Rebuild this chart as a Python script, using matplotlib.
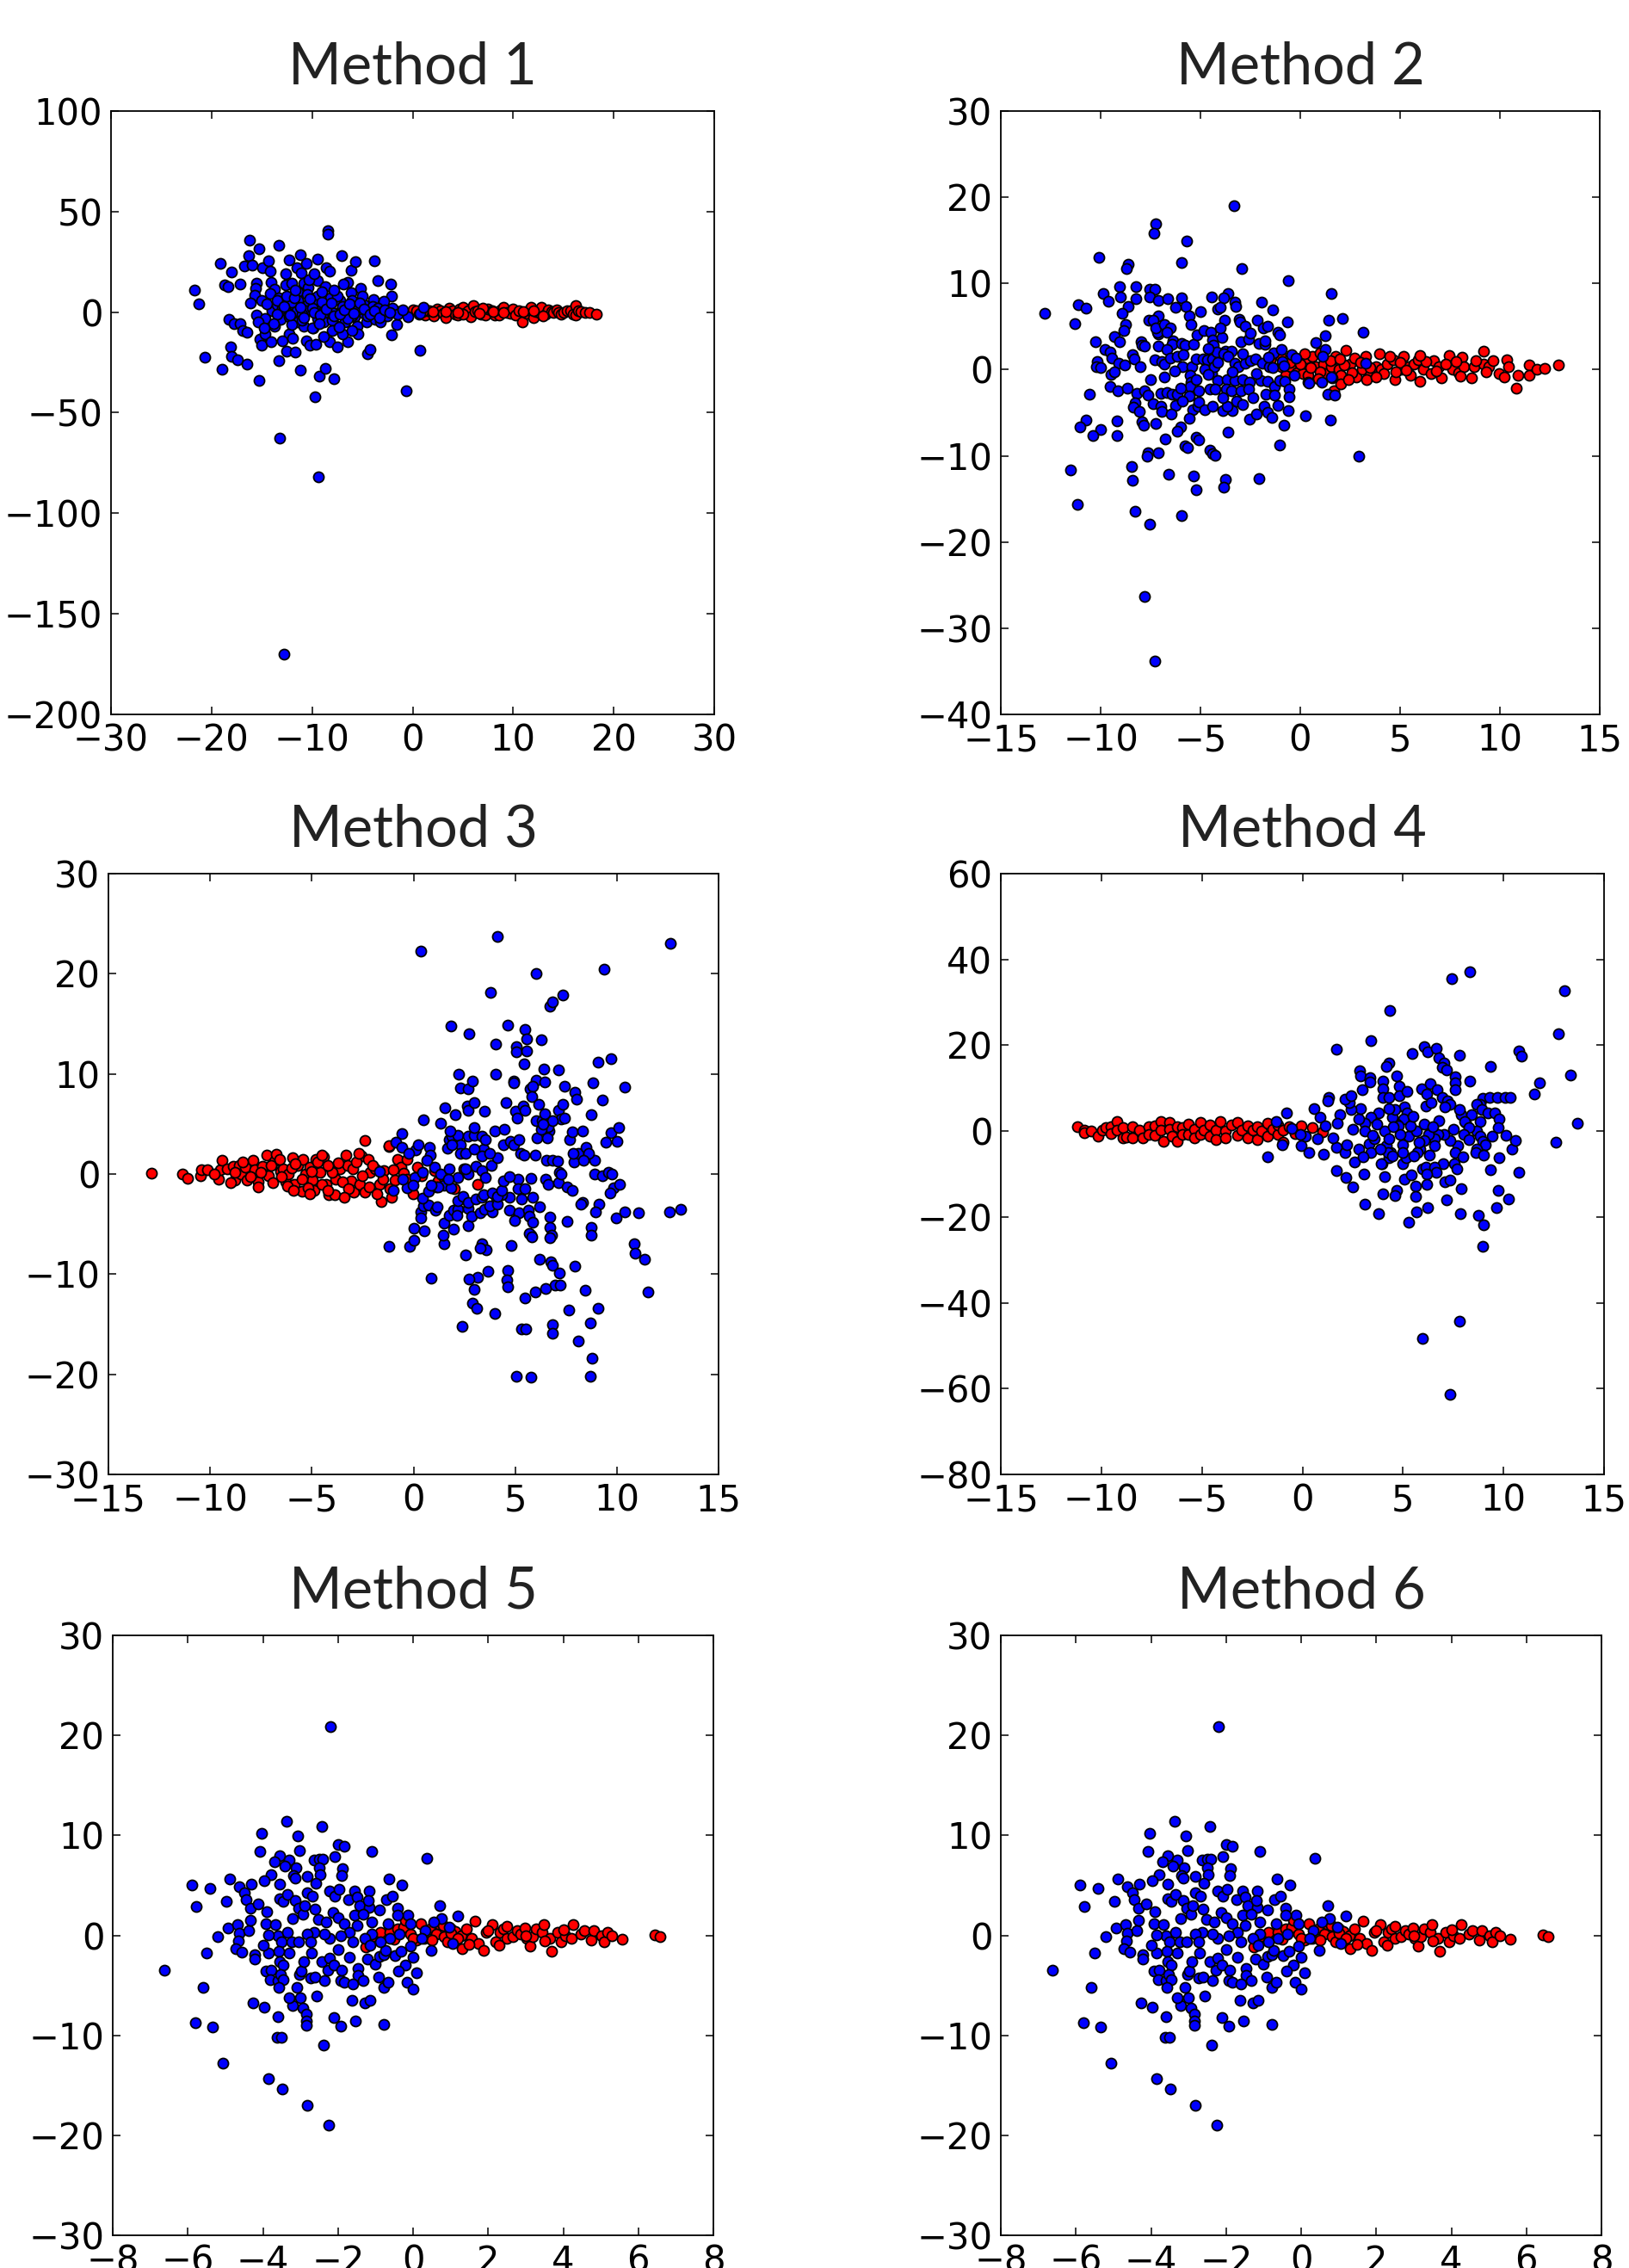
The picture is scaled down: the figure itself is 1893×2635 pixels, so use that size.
import numpy as np
import matplotlib
matplotlib.use("Agg")
import matplotlib.pyplot as plt

# points, (x, y)
m1_blue = [(-8.4, 40.4), (-8.4, 39.0), (-16.2, 35.7), (-15.3, 31.4), (-13.3, 33.1), (-19.1, 24.3), (-18.0, 20.1),
           (-16.3, 28.0), (-16.7, 22.9), (-16.0, 23.6), (-14.9, 22.1), (-14.3, 25.4), (-14.2, 20.4), (-12.3, 26.0),
           (-11.2, 28.6), (-9.5, 26.4), (-11.5, 22.1), (-10.6, 24.3), (-11.1, 19.7), (-8.6, 22.1), (-8.3, 20.4),
           (-7.1, 28.0), (-6.1, 20.7), (-5.7, 25.0), (-3.8, 25.7), (-3.5, 15.7), (-2.2, 14.0), (-2.1, 7.9),
           (-6.5, 15.0), (-6.9, 14.0), (-5.2, 11.9), (-18.7, 13.6), (-18.4, 12.6), (-17.2, 13.9), (-21.7, 11.0),
           (-21.3, 4.3), (-15.5, 14.3), (-15.6, 11.9), (-14.1, 15.0), (-13.7, 11.4), (-12.6, 13.6), (-12.6, 19.0),
           (-12.0, 14.6), (-10.8, 14.6), (-10.4, 12.1), (-9.5, 15.7), (-8.7, 12.9), (-15.7, 8.3), (-15.0, 5.7),
           (-16.1, 4.7), (-14.2, 9.3), (-13.3, 7.1), (-12.2, 3.6), (-11.4, 10.0), (-11.4, 5.7), (-10.4, 4.3),
           (-9.5, 7.9), (-8.5, 3.6), (-8.2, 7.1), (-7.2, 5.7), (-6.1, 9.6), (-4.8, 3.6), (-3.9, 6.4), (-2.9, 5.3),
           (-14.0, 0.7), (-13.5, 3.6), (-12.6, 0.7), (-11.5, 0.7), (-10.6, 0.7), (-9.6, 3.6), (-8.9, -0.4),
           (-7.6, -0.4), (-7.0, 2.1), (-5.8, -2.1), (-4.8, -0.7), (-3.2, 0.7), (-1.9, 1.0), (-1.5, 0.4),
           (-0.5, -2.1), (0.7, -0.7), (1.1, 2.4), (-15.5, -1.4), (-14.7, -3.3), (-18.3, -3.6), (-17.8, -5.7),
           (-17.2, -5.7), (-16.9, -9.3), (-16.5, -10.0), (-15.4, -5.0), (-13.7, -7.1), (-13.1, -3.6), (-12.3, -2.1),
           (-12.3, -10.7), (-11.4, -5.0), (-10.8, -7.1), (-9.9, -7.9), (-8.9, -5.0), (-7.7, -6.4), (-6.7, -5.0),
           (-5.5, -7.1), (-4.6, -5.0), (-3.7, -3.6), (-3.2, -5.0), (-1.6, -6.0), (-2.1, -11.4), (-15.2, -13.6),
           (-14.7, -10.7), (-15.0, -16.4), (-14.1, -14.6), (-13.0, -14.3), (-12.5, -19.3), (-11.7, -20.0),
           (-10.6, -14.3), (-10.2, -16.4), (-9.6, -16.1), (-8.3, -14.7), (-7.5, -17.1), (-6.5, -14.7),
           (-5.4, -10.7), (-4.5, -20.7), (-4.2, -18.6), (-18.1, -17.1), (-18.0, -21.9), (-17.4, -23.6),
           (-16.5, -26.0), (-20.7, -22.6), (-19.0, -28.3), (-15.3, -33.9), (-13.3, -24.0), (-11.2, -29.0),
           (-9.3, -31.7), (-8.7, -28.1), (-7.8, -33.1), (-9.7, -42.0), (0.7, -18.9), (-0.6, -38.9), (-13.2, -62.7),
           (-9.4, -82.0), (-12.8, -170.0), (-13, 2), (-12, 5), (-11, -1), (-10, 2), (-9, 5), (-8, 0), (-7, 3),
           (-6, -2), (-5, 2), (-4, 3), (-3, -1), (-2, 2), (-12.5, 8), (-10.5, 9), (-9, 10), (-7.5, 8), (-6, 6),
           (-5, 8), (-11, -4), (-9.5, -3), (-8, -4), (-6.5, -3), (-4.5, -2), (-13.5, -1), (-14.5, 4), (-10, -8),
           (-8, -9), (-7, -11), (-12, -6), (-5.5, 1), (-3.5, 2), (-2.5, -2), (-1.5, -1), (-1, 1),
           (-13.5, 6), (-12.8, 3), (-11.8, 7), (-11.2, 2.5), (-10.2, 6.5), (-9.8, 0), (-9.2, -1.5), (-8.6, 1.5),
           (-8.1, 4.5), (-7.8, -2), (-7.2, -1), (-6.8, 1), (-6.3, 4), (-5.9, -0.5), (-5.3, 4.5), (-4.8, 1.5),
           (-4.2, -1), (-3.8, 0.5), (-3.3, -2.5), (-2.8, 1), (-2.3, 0), (-12.2, -1.5), (-10.8, -2.5), (-9.3, -5.5),
           (-7.3, -7.5), (-6, -9), (-11.7, 11), (-10.3, 16), (-7.8, 11), (-9.8, 19), (-13.8, -5.5), (-14.8, -8),
           (-11.9, -13), (-8.9, -12)]
m1_red = [(-1.0, 0.5), (-0.5, -0.8), (0.0, 1.0), (0.35, 0.7), (0.6, -1.2), (1.2, -1.4), (1.5, 0.9), (1.7, 0.7),
          (2.1, -1.9), (2.4, 1.5), (2.75, 0.7), (3.0, -0.5), (3.26, -2.9), (3.6, 1.8), (3.94, 0.7), (4.2, -1.2),
          (4.46, -1.4), (4.7, 1.5), (4.97, 2.4), (5.2, -0.4), (5.5, 0.8), (5.8, -2.4), (6.0, 3.3), (6.2, 0.2),
          (6.5, 0.7), (6.8, -1.0), (7.2, -1.4), (7.5, 1.6), (7.9, 0.7), (8.2, -1.5), (8.56, -1.4), (8.8, 1.2),
          (9.07, 2.4), (9.4, -0.3), (9.75, -0.4), (10.0, 1.4), (10.27, -1.4), (10.6, 0.5), (10.95, -5.0),
          (11.3, -0.4), (11.6, 1.2), (11.8, 2.4), (12.0, -2.9), (12.3, 0.3), (12.7, -0.4), (12.8, 2.4),
          (13.2, -1.2), (13.5, 1.1), (13.8, 0.2), (14.0, -0.3), (14.3, 1.0), (14.5, -0.3), (14.8, -1.2),
          (15.05, -0.3), (15.4, 0.8), (15.7, 0.7), (16.0, -1.0), (16.2, 3.3), (16.25, -1.4), (16.5, 0.5),
          (16.76, 0.3), (17.2, 0.0), (17.6, -0.3), (18.3, -1.0), (2.0, 0.3), (5.0, -0.8), (8.0, 0.3), (11.0, 0.2),
          (13.0, -2.0), (7.0, 1.9), (1.0, 0.2), (3.3, 0.4), (4.5, 0.0), (6.6, -0.5), (9.0, 0.0), (12.0, 0.8)]

m2_blue = [(-3.32, 19.0), (-7.25, 16.9), (-7.32, 15.8), (-5.7, 14.9), (-10.08, 13.0), (-8.6, 12.2), (-8.7, 11.7),
           (-5.95, 12.4), (-2.93, 11.7), (-0.6, 10.3), (-9.06, 9.6), (-8.23, 9.6), (-7.53, 9.3), (-7.3, 9.3),
           (-9.87, 8.8), (-9.6, 7.9), (-9.02, 8.4), (-8.25, 8.2), (-7.53, 8.4), (-7.13, 8.0), (-6.65, 8.2),
           (-5.94, 8.3), (-5.74, 7.3), (-6.24, 7.2), (-4.43, 8.4), (-3.6, 8.8), (-3.85, 8.3), (-3.28, 7.8),
           (-3.22, 7.3), (-4.12, 7.0), (-3.99, 7.2), (-1.93, 7.8), (-1.39, 6.9), (1.54, 8.8), (-11.1, 7.5),
           (-10.75, 7.1), (-12.8, 6.5), (-11.29, 5.3), (-8.6, 7.3), (-8.94, 6.5), (-8.73, 5.2), (-8.85, 4.5),
           (-7.11, 6.2), (-7.6, 5.7), (-7.36, 5.7), (-5.55, 6.2), (-5.47, 5.2), (-4.99, 6.7), (-3.8, 5.7),
           (-3.08, 5.8), (-3.03, 5.5), (-2.74, 5.0), (-2.14, 5.7), (-1.85, 4.8), (-1.62, 5.0), (-1.14, 4.3),
           (-1.04, 4.0), (-0.64, 5.5), (1.42, 5.7), (2.1, 5.9), (1.27, 3.9), (3.16, 4.3), (0.79, 3.1), (1.27, 2.3),
           (-10.27, 3.2), (-9.33, 3.8), (-9.04, 3.2), (-9.77, 2.3), (-9.54, 2.0), (-9.44, 1.3), (-10.16, 0.9),
           (-10.2, 0.3), (-10.0, 0.2), (-8.42, 1.7), (-8.32, 1.2), (-9.11, 0.7), (-8.8, 0.5), (-9.48, -0.6),
           (-9.29, -0.3), (-7.98, 3.2), (-7.94, 2.8), (-7.79, 2.7), (-7.11, 4.1), (-7.17, 4.3), (-7.25, 4.8),
           (-6.82, 5.2), (-6.5, 4.8), (-6.69, 4.3), (-6.38, 3.3), (-6.44, 2.9), (-5.95, 3.0), (-5.76, 2.8),
           (-5.34, 2.9), (-5.18, 4.0), (-4.84, 4.5), (-4.49, 4.3), (-4.38, 3.4), (-4.36, 2.8), (-3.93, 3.7),
           (-3.74, 2.1), (-3.45, 2.1), (-2.99, 3.2), (-2.6, 3.5), (-2.06, 3.0), (-1.75, 2.9), (-1.75, 3.3),
           (-1.33, 1.9), (-0.95, 2.3), (-7.11, 2.7), (-6.69, 2.3), (-7.27, 1.1), (-6.92, 0.9), (-6.82, 0.6),
           (-6.53, 1.3), (-6.15, 1.5), (-5.86, 1.7), (-5.9, 0.3), (-5.42, 0.3), (-5.22, 1.2), (-4.88, 1.2),
           (-4.65, 1.1), (-4.41, 1.2), (-4.8, 0.0), (-4.45, -0.5), (-4.32, 0.3), (-4.18, 2.0), (-3.83, 1.8),
           (-4.12, 0.8), (-3.6, 1.5), (-3.26, 0.7), (-3.1, 0.3), (-2.78, 0.7), (-2.49, 1.0), (-2.26, 1.2),
           (-1.91, 0.7), (-1.56, 0.3), (-1.37, 0.2), (-0.91, 0.9), (-0.44, 1.7), (-0.21, 1.3), (-6.82, -0.9),
           (-5.53, -0.7), (-5.47, -1.5), (-5.53, -2.0), (-4.61, -0.6), (-4.12, -1.3), (-3.68, -1.2), (-3.26, -1.3),
           (-2.87, -1.2), (-2.53, -1.5), (-1.97, -1.3), (-1.62, -1.4), (-1.29, -2.0), (-1.04, -1.3), (-0.79, -1.4),
           (-0.56, -2.3), (0.4, -1.5), (1.08, -1.5), (1.6, -1.0), (-9.52, -2.0), (-9.13, -2.5), (-8.67, -2.2),
           (-10.58, -2.9), (-8.21, -2.8), (-7.79, -2.5), (-7.65, -3.0), (-6.99, -2.8), (-6.69, -2.7), (-6.44, -2.9),
           (-6.15, -2.9), (-5.57, -3.1), (-5.09, -2.5), (-4.51, -2.3), (-4.26, -2.3), (-3.7, -2.3), (-3.45, -2.5),
           (-2.97, -2.5), (-2.58, -2.3), (-2.35, -3.3), (-1.72, -2.9), (-1.29, -3.0), (-0.58, -3.2), (1.37, -2.9),
           (1.71, -3.0), (-8.29, -3.9), (-8.36, -4.4), (-8.07, -4.9), (-7.38, -4.0), (-6.98, -4.3), (-6.96, -4.9),
           (-6.24, -4.2), (-5.92, -3.7), (-6.47, -5.1), (-5.38, -4.7), (-5.15, -4.3), (-5.09, -3.8), (-4.78, -4.7),
           (-4.41, -4.3), (-3.9, -4.8), (-3.41, -4.8), (-3.68, -4.3), (-3.2, -3.7), (-2.87, -4.1), (-1.81, -4.3),
           (-1.62, -5.0), (-1.43, -5.5), (-1.1, -4.2), (-0.6, -4.8), (-0.81, -6.4), (0.25, -5.3), (1.52, -5.8),
           (-2.56, -5.7), (-2.2, -5.1), (-5.55, -5.6), (-7.94, -6.0), (-7.84, -6.4), (-7.23, -6.2), (-10.75, -5.8),
           (-11.02, -6.6), (-9.98, -6.9), (-10.4, -7.6), (-9.19, -5.9), (-9.17, -7.6), (-6.78, -8.0), (-6.01, -6.6),
           (-6.17, -7.1), (-5.22, -7.8), (-5.09, -8.1), (-3.62, -7.2), (-5.76, -8.8), (-5.65, -9.0), (-4.51, -9.3),
           (-4.41, -9.7), (-4.26, -9.9), (-7.65, -9.6), (-7.69, -10.0), (-7.11, -9.6), (-1.02, -8.7), (2.93, -10.0),
           (-8.46, -11.2), (-8.42, -12.8), (-11.52, -11.6), (-6.61, -12.1), (-5.36, -12.3), (-3.76, -12.7),
           (-3.84, -13.6), (-5.22, -13.9), (-2.08, -12.6), (-11.16, -15.6), (-8.27, -16.4), (-5.94, -16.9),
           (-7.53, -17.9), (-7.8, -26.3), (-7.3, -33.8), (3.26, 0.7), (1.56, -0.9), (0.44, -1.6), (1.13, 1.5),
           (-5.2, -1.2), (-4.6, 2.4), (-3.4, -0.3), (-2.9, 1.8), (-2.2, -0.5), (-1.6, 1.4), (-0.8, 0.4),
           (-0.3, -0.7), (-6.3, -0.2), (-7.5, -1.2), (-8.0, 0.3), (-3.9, -3.3), (-2.5, 4.2), (-6.0, -2.2),
           (-4.0, 4.8)]
m2_red = [(-1.52, 1.17), (-0.95, 0.33), (-0.75, -0.67), (-0.46, 0.33), (-0.18, -0.33), (0.11, -0.5), (0.31, 1.33),
          (0.6, 1.5), (0.79, 0.33), (1.17, 0.67), (1.27, -0.5), (1.56, 0.33), (1.75, 1.5), (1.94, 0.0),
          (2.04, -0.67), (2.29, 2.27), (2.52, 0.67), (2.72, 1.33), (2.81, -0.83), (3.1, 0.0), (3.29, 1.5),
          (3.49, -0.67), (3.78, 0.33), (3.97, 1.83), (4.06, 0.0), (4.35, 0.67), (4.64, 1.17), (4.74, -1.17),
          (5.03, 0.0), (5.18, 1.5), (5.41, 0.33), (5.7, 0.67), (5.89, 1.17), (5.99, -1.33), (6.18, 0.0),
          (6.57, -0.5), (6.67, 1.07), (6.95, 0.33), (7.05, -1.0), (7.44, 1.67), (7.63, 0.0), (7.92, -0.33),
          (8.11, 1.43), (8.21, 0.33), (8.59, -1.0), (8.69, 0.33), (9.17, 2.17), (9.17, 0.67), (9.46, 0.33),
          (9.65, 1.07), (9.94, -0.5), (10.23, -0.83), (10.33, 1.17), (10.42, 0.33), (10.81, -2.17), (10.9, -0.67),
          (11.48, 0.5), (11.48, -0.67), (11.87, 0.0), (12.25, 0.17), (12.93, 0.57), (1.66, -2.5), (2.04, -1.67),
          (0.4, -0.67), (0.02, 0.67), (0.5, 0.2), (1.0, -0.3), (1.5, 1.0), (2.2, 0.5), (2.6, -0.4), (3.0, 0.8),
          (3.5, 0.2), (4.2, -0.5), (4.5, 1.5), (5.0, 0.8), (5.5, -0.7), (6.3, 0.9), (6.8, -0.2), (7.3, 0.6),
          (8.0, -0.8), (8.8, 1.0), (9.3, -0.3), (-1.0, 1.5), (-0.5, 0.8), (0.2, 1.8), (1.0, 1.9), (2.0, 1.2),
          (3.3, -1.2), (4.8, -0.3), (6.0, 1.6), (0.9, -1.1), (2.4, -1.2), (3.8, -0.9), (5.3, -0.1), (7.8, 0.9)]

m3_blue = [(0.37, 22.25), (4.13, 23.7), (12.62, 23.0), (6.02, 20.0), (9.36, 20.5), (3.77, 18.1), (6.7, 16.8),
           (6.85, 17.2), (7.36, 17.9), (1.84, 14.8), (2.72, 14.0), (4.64, 14.9), (5.47, 14.4), (5.57, 13.5),
           (6.27, 13.4), (4.04, 13.0), (5.05, 12.75), (5.05, 12.2), (5.55, 12.3), (5.43, 11.0), (6.41, 10.5),
           (7.14, 10.4), (9.07, 11.2), (9.69, 11.5), (2.21, 10.0), (4.02, 10.0), (2.29, 8.6), (2.68, 8.5),
           (2.91, 9.3), (4.93, 9.3), (4.91, 9.1), (6.04, 9.4), (6.46, 9.2), (5.75, 8.5), (5.88, 8.75), (5.82, 7.7),
           (7.44, 8.75), (7.94, 8.2), (8.02, 7.5), (8.81, 9.1), (9.3, 7.4), (10.37, 8.7), (1.53, 6.6), (2.64, 6.8),
           (2.68, 6.4), (2.97, 7.1), (3.47, 6.3), (2.04, 5.9), (0.5, 5.4), (1.32, 5.1), (4.56, 7.1), (5.01, 6.25),
           (5.09, 5.6), (5.38, 6.8), (5.47, 6.4), (6.14, 7.0), (6.04, 5.3), (6.31, 5.3), (6.5, 4.6), (6.66, 4.3),
           (6.08, 3.6), (6.56, 3.6), (6.62, 4.75), (7.14, 6.4), (7.24, 5.5), (7.34, 7.0), (7.67, 3.4), (7.79, 4.2),
           (8.33, 4.3), (8.74, 5.9), (9.71, 4.1), (10.08, 4.6), (9.47, 3.2), (10.0, 3.3), (-0.58, 4.0),
           (-0.86, 3.2), (-0.58, 2.7), (0.1, 2.4), (-0.23, 2.1), (0.25, 2.9), (0.79, 2.7), (0.81, 1.9), (1.67, 2.6),
           (1.77, 3.4), (1.9, 3.75), (2.19, 3.9), (2.29, 2.9), (2.68, 3.75), (2.97, 3.9), (3.36, 3.75), (3.45, 2.5),
           (3.55, 3.4), (2.97, 4.6), (3.98, 4.3), (4.48, 4.5), (4.41, 2.9), (4.76, 3.3), (4.91, 2.9), (5.2, 3.4),
           (5.26, 2.1), (5.45, 1.9), (5.98, 1.9), (6.54, 1.4), (6.85, 1.4), (7.09, 1.25), (7.18, 0.14), (7.88, 1.2),
           (8.12, 2.1), (8.6, 1.8), (8.89, 1.4), (8.89, 0.0), (9.28, -0.2), (9.57, 0.2), (9.82, -1.4), (10.15, -1.0),
           (9.65, -1.9), (6.5, -0.5), (6.62, -1.0), (7.14, -0.9), (7.57, -1.25), (7.79, -1.6), (8.33, -2.8),
           (8.25, -3.0), (9.13, -3.0), (8.95, -3.8), (5.16, -0.5), (5.78, -0.46), (5.14, -1.5), (5.49, -1.5),
           (5.88, -2.3), (4.72, -2.3), (5.3, -2.5), (4.33, -2.1), (4.08, -2.4), (4.72, -3.6), (5.2, -3.9),
           (5.65, -3.6), (5.69, -4.2), (6.18, -3.3), (4.99, -4.6), (5.88, -4.8), (6.7, -4.3), (6.7, -5.3),
           (6.79, -6.1), (6.7, -6.4), (7.57, -4.75), (8.72, -5.3), (8.72, -6.1), (9.96, -4.4), (10.39, -3.75),
           (11.05, -3.9), (12.6, -3.75), (13.13, -3.5), (10.87, -7.0), (10.89, -7.9), (11.36, -8.5), (11.53, -11.8),
           (7.94, -9.2), (8.43, -11.6), (7.63, -13.6), (9.07, -13.4), (8.7, -14.9), (8.1, -16.7), (8.8, -18.4),
           (8.7, -20.2), (6.19, -8.5), (6.77, -8.75), (6.85, -9.1), (7.18, -9.9), (6.95, -11.1), (7.2, -11.1),
           (6.5, -11.4), (5.98, -11.8), (5.49, -12.4), (4.62, -9.6), (4.6, -10.6), (4.64, -11.3), (3.67, -9.75),
           (3.16, -10.3), (2.72, -10.5), (2.97, -11.5), (3.98, -13.9), (2.91, -12.9), (3.1, -13.4), (2.41, -15.25),
           (5.3, -15.5), (5.51, -15.5), (6.85, -15.0), (6.85, -15.9), (5.05, -20.2), (5.77, -20.25), (0.85, -10.4),
           (2.58, -8.1), (3.36, -7.0), (3.59, -7.6), (3.26, -7.4), (4.81, -7.1), (5.77, -6.1), (5.69, -5.9),
           (5.82, -6.3), (-1.21, -7.2), (-0.2, -7.2), (0.04, -6.6), (0.02, -5.4), (0.54, -5.7), (1.51, -7.0),
           (1.47, -6.1), (1.98, -5.5), (2.7, -5.2), (0.35, -3.75), (0.37, -4.4), (0.5, -3.2), (0.76, -3.1),
           (1.09, -3.6), (1.16, -3.3), (1.51, -4.9), (1.77, -4.1), (1.96, -3.6), (2.19, -3.5), (2.15, -4.1),
           (2.7, -3.4), (2.87, -4.2), (3.28, -3.9), (3.51, -3.5), (3.86, -3.8), (3.75, -3.2), (4.13, -3.0),
           (0.45, -2.4), (0.76, -1.7), (1.12, -1.3), (1.51, -1.1), (1.84, -1.4), (2.19, -2.7), (2.43, -2.25),
           (2.68, -2.8), (3.07, -2.5), (3.36, -2.3), (3.45, -2.1), (3.86, -1.9), (4.13, -2.2), (4.33, -1.6),
           (4.43, -0.7), (4.72, -0.3), (2.68, 0.0), (3.07, 0.8), (3.36, 0.36), (3.84, 0.9), (4.13, 1.6),
           (3.55, -0.36), (2.58, 0.5), (2.19, -0.36), (1.03, 0.7), (1.32, 0.0), (1.77, 0.5), (1.71, -0.5),
           (1.22, -1.25), (0.87, -1.1), (0.06, -0.36), (-0.33, -1.4), (-0.52, -0.5), (-1.01, -1.6), (-1.69, 0.3),
           (-0.04, -1.1), (0.45, 0.2), (0.64, 1.4), (1.8, 4.3), (1.9, 2.9), (2.29, 2.1), (2.58, 2.1), (2.97, 2.5),
           (3.36, 1.8), (3.75, 2.1), (6.46, 6.0), (6.85, 5.3), (7.44, 5.6), (6.27, 4.5), (6.37, 5.0), (7.83, 2.1),
           (8.5, 2.7), (8.6, 2.1), (8.37, 1.4), (9.77, 0.0), (7.24, 0.0)]
m3_red = [(-12.9, 0.1), (-11.34, 0.0), (-11.11, -0.46), (-10.49, -0.2), (-10.43, 0.4), (-10.14, 0.46), (-9.6, -0.5),
          (-9.52, 0.46), (-9.4, 1.4), (-9.17, 0.5), (-8.87, 0.8), (-8.78, -0.64), (-8.58, 0.9), (-8.49, 0.0),
          (-8.29, 0.7), (-8.2, -0.64), (-7.9, 1.4), (-7.81, 0.43), (-7.65, -0.8), (-7.65, -1.3), (-7.42, 0.8),
          (-7.22, 1.9), (-7.13, -0.18), (-6.84, 1.25), (-6.74, 1.96), (-6.55, 0.29), (-6.41, 0.54), (-6.29, -0.8),
          (-6.16, 0.0), (-5.96, 1.6), (-5.87, -1.0), (-5.67, 0.9), (-5.48, -1.7), (-5.42, 1.5), (-5.32, 0.0),
          (-5.09, 0.71), (-4.99, -0.64), (-4.9, -1.6), (-4.8, 1.43), (-4.6, 0.18), (-4.41, 1.71), (-4.31, -1.07),
          (-4.18, -2.07), (-4.06, 0.54), (-3.87, -2.07), (-3.83, -0.54), (-3.63, 0.54), (-3.34, 1.86), (-3.24, 0.89),
          (-3.05, -0.71), (-2.95, -1.79), (-2.66, -1.07), (-2.56, 1.79), (-2.37, -1.79), (-2.23, 1.43), (-2.12, 0.18),
          (-1.89, 0.54), (-1.69, -1.07), (-1.59, -2.79), (-1.46, 0.36), (-1.21, 2.75), (-1.15, -1.43), (-1.07, -2.32),
          (-0.78, 1.5), (-0.62, 0.71), (-0.33, 1.43), (-0.14, -1.07), (-0.04, -1.96), (0.21, 0.71), (0.41, -0.18),
          (1.03, 0.36), (1.22, -0.71), (1.51, -0.36), (2.0, -1.43), (2.48, 0.54), (3.16, -1.07), (-2.37, 3.39),
          (-1.21, 2.86), (-6.5, -0.3), (-6.0, 0.6), (-5.5, -0.5), (-5.0, 0.3), (-4.5, -1.0), (-4.0, 0.2), (-3.5, -0.8),
          (-3.0, 0.5), (-2.5, -0.2), (-2.0, 0.9), (-1.5, -0.5), (-1.0, 0.4), (-0.5, 0.1), (-5.8, 1.0), (-4.7, 1.2),
          (-3.7, 1.1), (-2.8, 1.2), (-6.2, -1.2), (-5.2, -1.4), (-4.2, -1.6), (-3.2, -1.5), (-2.2, -1.3), (-7.5, 0.2),
          (-8.0, -0.3), (-8.8, 0.2), (-9.8, 0.0), (-9.0, -0.9), (-8.4, 1.2), (-7.0, 0.9), (-6.9, -0.9), (-5.9, -1.6),
          (-5.1, -2.0), (-4.5, 1.9), (-3.4, -2.3), (-2.7, 2.1), (-1.8, -2.0), (-0.9, -0.6), (-0.3, -0.5),
          (-6.6, 1.5), (-4.2, 0.9)]

m4_blue = [(8.32, 37.1), (7.42, 35.6), (13.04, 32.7), (4.34, 28.1), (12.74, 22.7), (3.39, 21.1), (1.68, 19.1),
           (5.46, 18.0), (6.06, 19.75), (6.21, 18.5), (6.65, 19.2), (6.77, 17.1), (7.04, 15.8), (6.94, 14.8),
           (7.18, 14.2), (7.81, 17.75), (10.75, 18.75), (10.89, 17.5), (4.28, 15.8), (4.16, 15.0), (9.33, 15.1),
           (13.31, 13.1), (11.8, 11.25), (11.52, 8.6), (8.32, 11.6), (7.6, 12.7), (7.6, 11.25), (7.6, 9.6),
           (4.68, 12.8), (2.84, 14.1), (2.9, 12.9), (3.35, 12.5), (3.35, 11.4), (2.98, 9.6), (4.0, 11.6), (4.0, 9.8),
           (4.0, 7.9), (4.28, 7.9), (4.81, 10.4), (4.81, 8.3), (5.21, 9.2), (5.92, 9.8), (6.35, 11.0), (6.19, 8.75),
           (6.71, 9.6), (6.12, 5.8), (6.41, 6.7), (6.94, 7.9), (7.2, 7.1), (7.34, 6.25), (7.08, 5.7), (8.97, 7.7),
           (8.82, 6.25), (9.31, 7.9), (9.71, 7.9), (10.06, 7.9), (10.34, 7.9), (8.66, 6.25), (8.92, 5.0), (9.21, 4.2),
           (9.57, 4.3), (9.76, 2.9), (9.74, 0.8), (7.89, 3.75), (8.13, 2.1), (8.42, 3.75), (8.84, 2.3), (8.66, 0.0),
           (8.82, -1.25), (8.97, -2.3), (9.11, -3.1), (9.45, -1.25), (8.66, -4.2), (8.62, -5.0), (10.14, -1.0),
           (10.41, -4.2), (10.59, -2.1), (10.77, -9.6), (10.26, -15.75), (9.78, -6.2), (9.33, -9.0), (9.74, -13.8),
           (9.65, -17.9), (9.01, -21.9), (8.74, -19.6), (8.97, -26.9), (12.62, -2.5), (13.69, 1.9), (7.81, -44.2),
           (5.98, -48.4), (7.32, -61.25), (8.05, 2.25), (8.28, 0.8), (8.03, -0.7), (7.73, -3.3), (7.6, -5.0),
           (7.54, -7.5), (7.7, -8.75), (7.88, -13.5), (7.84, -19.2), (7.18, -16.1), (7.0, -7.5), (7.08, -11.9),
           (7.36, -11.4), (7.32, -2.1), (7.04, -0.8), (6.74, -0.7), (6.55, -1.7), (6.25, -0.8), (6.55, -3.3),
           (6.06, -2.1), (5.86, -4.2), (5.72, -5.0), (5.96, -8.75), (6.15, -8.3), (6.55, -8.3), (6.65, -9.6),
           (6.17, -10.0), (6.17, -12.5), (5.62, -12.9), (5.62, -15.2), (5.07, -11.25), (4.68, -13.75), (4.58, -15.0),
           (5.42, -10.2), (5.27, -21.3), (5.68, -18.8), (6.23, -17.9), (4.08, -10.7), (4.0, -14.6), (3.79, -19.2),
           (3.1, -17.1), (2.51, -13.1), (2.17, -10.9), (1.7, -9.2), (3.06, -10.0), (3.98, -7.5), (4.28, -6.25),
           (4.38, -5.0), (4.97, -7.5), (5.17, -6.25), (5.56, -5.8), (4.97, -3.1), (5.27, -1.25), (5.66, 0.0),
           (6.06, 1.7), (5.07, 5.7), (5.21, 4.2), (5.03, 2.9), (5.37, 1.25), (4.68, 1.7), (4.48, 3.3), (4.58, 5.0),
           (4.28, 5.2), (3.79, 4.3), (3.39, 3.3), (3.1, 1.8), (2.8, 2.9), (2.9, 5.2), (2.41, 5.0), (2.35, 6.7),
           (2.11, 7.5), (2.41, 8.3), (1.87, 3.75), (1.72, 1.8), (1.32, 7.9), (1.28, 7.1), (0.57, 5.2), (0.89, 3.3),
           (1.12, 1.25), (0.73, -1.7), (0.14, -1.25), (-0.06, -3.3), (0.34, -5.0), (1.03, -5.4), (1.68, -3.75),
           (2.11, -5.0), (2.21, -3.2), (2.6, -7.1), (2.8, -4.2), (3.33, -2.9), (3.39, -5.0), (3.93, -7.5),
           (4.18, -3.3), (4.24, -5.0), (4.48, -5.8), (3.89, -4.2), (3.59, -1.7), (3.1, 0.0), (4.08, 0.0),
           (4.77, 1.25), (4.87, -0.8), (4.97, -5.0), (4.28, -1.7), (3.69, 1.7), (-1.73, -5.9), (-1.0, -3.1),
           (-0.81, 4.2), (-1.3, 2.3), (-0.55, 0.7), (-0.1, -0.7), (3.5, -1), (4.5, 1), (5.8, -2.5), (6.8, 2.5),
           (7.5, 0.5), (8.3, -2), (9.0, -5.5), (5.5, 3.5), (3.0, -6), (6.3, -5.5), (7.8, 5), (2.5, 0.5), (1.5, -1.5),
           (6.5, 1), (8.0, -6)]
m4_red = [(-11.2, 1.0), (-10.85, 0.3), (-10.85, -0.3), (-10.51, 0.0), (-10.16, -1.2), (-9.95, 0.2), (-9.76, 0.8),
          (-9.53, 1.0), (-9.53, -0.5), (-9.23, 2.2), (-9.23, 0.3), (-8.93, -1.5), (-8.93, 0.8), (-8.74, -1.3),
          (-8.44, 1.0), (-8.44, -1.5), (-8.09, 0.2), (-7.95, -1.6), (-7.65, 1.0), (-7.65, -0.8), (-7.36, 1.3),
          (-7.36, -1.0), (-7.06, 2.2), (-7.06, 0.2), (-6.9, -2.4), (-6.61, 2.1), (-6.61, 0.5), (-6.47, -1.2),
          (-6.21, -2.4), (-6.21, 1.0), (-5.98, 0.8), (-5.98, -0.8), (-5.68, -0.7), (-5.68, 1.7), (-5.38, 0.4),
          (-5.38, -1.5), (-5.09, 2.0), (-5.09, -0.8), (-4.89, 0.3), (-4.6, 1.5), (-4.6, -1.2), (-4.3, 0.2),
          (-4.3, -2.0), (-4.1, 2.2), (-3.81, 0.0), (-3.81, -1.5), (-3.55, 1.5), (-3.25, -1.0), (-3.25, 2.0),
          (-3.02, 0.2), (-2.72, -1.5), (-2.72, 1.2), (-2.46, 0.3), (-2.23, -2.0), (-2.23, 1.0), (-2.03, 0.0),
          (-1.73, 1.8), (-1.73, -1.2), (-1.48, 0.5), (-1.24, -0.8), (-1.24, 1.5), (-0.95, -2.5), (-0.95, 0.3),
          (-0.65, 1.0), (-0.35, -0.5), (-0.06, 1.2), (0.5, 0.8), (1.0, -0.2)]

# methods 5 and 6 show the same points
m5_blue = [(-2.2, 20.9), (-3.37, 11.4), (-2.42, 10.9), (-4.04, 10.2), (-3.07, 9.9), (-4.09, 8.4), (-3.02, 8.5),
           (-2.0, 9.1), (-1.83, 8.9), (-1.1, 8.4), (0.36, 7.7), (-3.55, 8.0), (-3.68, 7.4), (-3.3, 7.5), (-3.41, 6.9),
           (-3.11, 6.8), (-2.64, 7.5), (-2.5, 7.6), (-2.41, 7.6), (-2.51, 6.8), (-2.47, 6.1), (-2.09, 7.9),
           (-1.87, 6.7), (-4.88, 5.6), (-4.32, 5.1), (-3.79, 6.1), (-3.97, 5.5), (-3.55, 5.1), (-3.18, 6.0),
           (-3.14, 5.7), (-2.83, 5.9), (-5.89, 5.0), (-5.42, 4.7), (-5.78, 2.9), (-4.98, 3.4), (-4.63, 4.9),
           (-4.5, 4.3), (-4.45, 3.6), (-4.33, 2.7), (-4.12, 3.1), (-3.55, 3.7), (-3.45, 3.4), (-3.35, 4.1),
           (-3.14, 3.5), (-3.04, 2.7), (-2.94, 2.1), (-2.88, 2.96), (-2.83, 4.3), (-2.68, 3.9), (-2.22, 4.4),
           (-2.09, 3.9), (-1.96, 4.6), (-1.73, 3.6), (-1.55, 4.4), (-1.5, 3.8), (-1.43, 2.96), (-1.17, 4.4),
           (-1.16, 2.8), (-0.72, 3.6), (-0.54, 3.9), (-0.42, 2.7), (-0.29, 5.0), (-0.65, 5.6), (0.71, 2.96),
           (0.76, 1.7), (1.2, 1.9), (-0.14, 2.0), (-0.06, 1.15), (-2.61, 2.6), (-2.52, 1.6), (-2.32, 1.3),
           (-2.13, 2.3), (-1.99, 1.8), (-1.83, 1.15), (-1.55, 2.0), (-1.34, 2.1), (-1.5, 1.0), (-1.7, 0.3),
           (-1.93, 0.0), (-2.22, -0.3), (-2.37, 0.16), (-2.63, 0.3), (-5.2, -0.16), (-4.92, 0.76), (-4.68, 1.05),
           (-4.62, 0.23), (-4.37, 0.5), (-4.66, -0.6), (-4.72, -1.3), (-4.56, -1.7), (-4.21, -1.9), (-4.22, -2.4),
           (-4.33, 1.5), (-3.91, 1.15), (-3.66, 1.05), (-3.6, 0.0), (-3.86, 0.07), (-3.5, -0.66), (-3.24, -0.66),
           (-3.35, 0.33), (-3.04, -0.66), (-2.83, 0.16), (-2.73, -0.66), (-3.3, -1.8), (-3.58, -1.6), (-3.86, -1.8),
           (-3.55, -2.6), (-3.45, -2.96), (-5.5, -1.8), (-6.62, -3.45), (-5.59, -5.2), (-5.81, -8.7), (-5.34, -9.2),
           (-5.07, -12.8), (-4.27, -6.8), (-3.97, -7.2), (-3.61, -8.1), (-3.63, -10.2), (-3.5, -10.2),
           (-3.85, -14.3), (-3.49, -15.4), (-2.81, -17.0), (-2.24, -19.0), (-3.91, -3.6), (-3.78, -3.45),
           (-3.8, -4.4), (-3.59, -4.5), (-3.52, -3.9), (-3.47, -4.4), (-3.57, -5.2), (-3.21, -7.0), (-3.0, -6.25),
           (-3.03, -3.95), (-2.98, -3.6), (-2.93, -7.3), (-2.85, -7.9), (-2.84, -8.55), (-2.84, -9.0), (-2.72, -4.3),
           (-2.61, -4.2), (-2.57, -6.1), (-2.37, -4.5), (-2.28, -3.5), (-2.42, -2.6), (-2.22, -2.3), (-2.11, -3.0),
           (-1.93, -4.5), (-1.84, -4.7), (-1.91, -3.45), (-2.11, -8.2), (-1.93, -9.1), (-2.39, -11.0),
           (-1.62, -6.5), (-1.53, -8.55), (-1.29, -6.8), (-1.14, -6.5), (-0.78, -8.9), (-0.92, -4.2), (-0.78, -5.2),
           (-0.67, -4.7), (-1.47, -3.3), (-1.47, -4.0), (-1.34, -4.5), (-1.21, -2.4), (-1.02, -2.9), (-0.9, -2.1),
           (-0.78, -1.97), (-0.73, -1.5), (-0.49, -2.0), (-0.21, -2.96), (-0.16, -4.7), (-0.01, -5.4), (0.09, -3.75),
           (-0.01, -2.2), (-0.32, -1.6), (-0.08, -1.05), (0.47, -1.5), (1.05, -0.8), (0.33, 0.5), (0.56, 1.3),
           (0.97, 0.8), (0.23, -0.33), (-0.37, 0.16), (-0.62, -0.33), (-1.09, 0.16), (-0.88, -0.66), (-1.29, -0.33),
           (-1.14, -1.0), (-1.6, -0.66), (-1.09, 1.3), (-0.67, 1.15), (-0.42, 2.0), (-3.9, 2.4), (-3.2, 1.7),
           (-2.7, -1.8), (-2.0, -1.4), (-1.7, -2.2), (-1.2, 3.5), (-0.9, 2.5), (-2.9, -2.6), (-4.0, -1.0),
           (-3.1, -5.2), (-1.6, -4.9), (-0.4, -3.6), (-2.6, 5.2), (-1.9, 6.0), (-3.3, -6.2)]
m5_red = [(-1.26, -1.15), (-1.09, -0.16), (-0.88, 0.33), (-0.62, 0.33), (-0.42, 0.66), (-0.26, 0.82), (-0.21, 1.5),
          (-0.06, 0.16), (0.1, -0.5), (0.2, 1.15), (0.3, -0.33), (0.46, 0.66), (0.61, 0.16), (0.66, 1.15),
          (0.82, -0.16), (0.92, -0.66), (1.02, 0.66), (1.12, 0.4), (1.28, 0.0), (1.3, -1.3), (1.43, 0.66),
          (1.57, -0.33), (1.64, 1.4), (1.74, -0.8), (1.89, -1.5), (1.95, 0.33), (2.1, 1.05), (2.2, -0.66),
          (2.31, 0.33), (2.41, 0.66), (2.51, -0.33), (2.67, -0.16), (2.77, 0.5), (2.87, 0.16), (2.98, 0.72),
          (3.03, -0.33), (3.11, -1.05), (3.18, -0.16), (3.28, 0.66), (3.44, 0.33), (3.49, 1.05), (3.64, -0.33),
          (3.69, -1.6), (3.85, 0.33), (3.95, -0.66), (4.05, 0.0), (4.21, -0.33), (4.26, 1.05), (4.46, 0.16),
          (4.57, 0.5), (4.75, -0.5), (4.82, 0.5), (5.03, 0.0), (5.08, -0.66), (5.18, 0.26), (5.29, 0.0),
          (5.57, -0.4), (6.44, 0.07), (6.57, -0.1), (0.5, -0.5), (1.0, 0.2), (1.5, -0.9), (2.0, 0.5), (2.5, 0.9),
          (3.0, 0.0), (3.5, -0.6), (4.0, 0.6), (0.0, -0.3), (-0.5, -0.4), (0.8, 1.0), (2.3, -1.0), (1.2, -0.3)]

titles = ["Method 1", "Method 2", "Method 3", "Method 4", "Method 5", "Method 6"]
blues = [m1_blue, m2_blue, m3_blue, m4_blue, m5_blue, m5_blue]
reds = [m1_red, m2_red, m3_red, m4_red, m5_red, m5_red]
xlims = [(-30, 30), (-15, 15), (-15, 15), (-15, 15), (-8, 8), (-8, 8)]
ylims = [(-200, 100), (-40, 30), (-30, 30), (-80, 60), (-30, 30), (-30, 30)]
xsteps = [10, 5, 5, 5, 2, 2]
ysteps = [50, 10, 10, 20, 10, 10]

W, H = 1893, 2635
fig = plt.figure(figsize=(W / 100, H / 100), dpi=100)
fig.patch.set_facecolor("white")

# axes boxes in pixels: left, top, right, bottom
boxes = [(129, 129, 830, 830), (1163, 129, 1859, 830),
         (126, 1015, 835, 1713), (1163, 1015, 1864, 1713),
         (131, 1900, 829, 2597), (1163, 1900, 1861, 2597)]

for i in range(6):
    l, t, r, b = boxes[i]
    ax = fig.add_axes([l / W, 1 - b / H, (r - l) / W, (b - t) / H])
    red = np.array(reds[i])
    blue = np.array(blues[i])
    ax.scatter(red[:, 0], red[:, 1], s=75, c="red", edgecolors="black", linewidths=1.3, zorder=2)
    ax.scatter(blue[:, 0], blue[:, 1], s=75, c="blue", edgecolors="black", linewidths=1.3, zorder=3)
    ax.set_xlim(xlims[i])
    ax.set_ylim(ylims[i])
    ax.set_xticks(np.arange(xlims[i][0], xlims[i][1] + 1, xsteps[i]))
    ax.set_yticks(np.arange(ylims[i][0], ylims[i][1] + 1, ysteps[i]))
    ax.tick_params(direction="in", top=True, right=True, length=6.5, width=1.1,
                   labelsize=30, pad=7)
    for sp in ax.spines.values():
        sp.set_linewidth(1.3)
    ax.set_title(titles[i], fontsize=48, family="Lato", color="#222222", pad=23)

fig.savefig("out.png", dpi=100, facecolor="white")
